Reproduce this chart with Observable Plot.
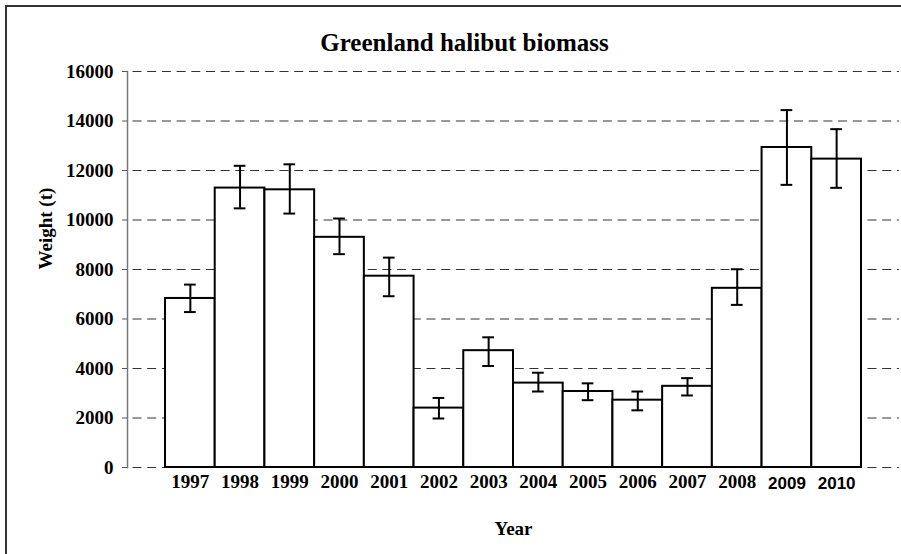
<!DOCTYPE html>
<html>
<head>
<meta charset="utf-8">
<script src="https://cdn.jsdelivr.net/npm/d3@7"></script>
<script src="https://cdn.jsdelivr.net/npm/@observablehq/plot@0.6"></script>
<style>
  html, body { margin: 0; padding: 0; background: #fff; overflow: hidden; }
  #wrap { position: relative; width: 901px; height: 554px; }
  #border { position: absolute; left: 5px; top: 5px; width: 2000px; height: 2000px;
            border: 2px solid #333; pointer-events: none; }
  svg { display: block; }
</style>
</head>
<body>
<div id="wrap"><div id="border"></div></div>
<script>
const years   = [1997, 1998, 1999, 2000, 2001, 2002, 2003, 2004, 2005, 2006, 2007, 2008, 2009, 2010];
const biomass = [6830, 11290, 11220, 9300, 7730, 2400, 4720, 3410, 3070, 2720, 3280, 7240, 12930, 12460];
const errHigh = [7390, 12190, 12250, 10060, 8480, 2810, 5260, 3830, 3400, 3070, 3610, 8010, 14440, 13670];
const errLow  = [6280, 10470, 10260, 8620, 6920, 1980, 4100, 3070, 2720, 2310, 2910, 6570, 11420, 11300];
const yTicks  = [0, 2000, 4000, 6000, 8000, 10000, 12000, 14000, 16000];
const title = "Greenland halibut biomass";
const xLabel = "Year";
const yLabel = "Weight (t)";

const data = years.map((y, i) => ({year: String(y), yr: y, value: biomass[i], lo: errLow[i], hi: errHigh[i]}));
const serif = "'Liberation Serif', 'Times New Roman', serif";
const sans = "'Liberation Sans', Arial, sans-serif";

const chart = Plot.plot({
  width: 901,
  height: 554,
  marginLeft: 127,
  marginRight: 2,
  marginTop: 71,
  marginBottom: 87,
  style: {background: "transparent", fontFamily: serif, color: "black"},
  x: {type: "band", domain: years.map(String), padding: 0, round: false, insetLeft: 38, insetRight: 38, axis: null},
  y: {domain: [0, 16000], axis: null},
  marks: [
    Plot.ruleY(yTicks, {stroke: "#333", strokeWidth: 1, strokeDasharray: "9,5.7", strokeDashoffset: -5.5}),
    Plot.frame({anchor: "left", stroke: "#777", strokeWidth: 1.5}),
    Plot.axisY(yTicks, {tickSize: 5, tickPadding: 9, tickFormat: "d", fontSize: 19, fontWeight: "bold",
                        fontFamily: serif, fill: "black", stroke: "#555", label: null}),
    Plot.barY(data, {x: "year", y: "value", fill: "white", stroke: "black", strokeWidth: 2}),
    Plot.ruleX(data, {x: "year", y1: "lo", y2: "hi", stroke: "black", strokeWidth: 2}),
    Plot.tickY(data, {x: "year", y: "lo", insetLeft: 19, insetRight: 19, stroke: "black", strokeWidth: 2}),
    Plot.tickY(data, {x: "year", y: "hi", insetLeft: 19, insetRight: 19, stroke: "black", strokeWidth: 2}),
    Plot.text(data.filter(d => d.yr < 2009), {x: "year", text: "year", frameAnchor: "bottom", lineAnchor: "middle",
      dy: 14, fontSize: 19, fontWeight: "bold", fontFamily: serif, fill: "black"}),
    Plot.text(data.filter(d => d.yr >= 2009), {x: "year", text: "year", frameAnchor: "bottom", lineAnchor: "middle",
      dy: 16, fontSize: 17, fontWeight: "bold", fontFamily: sans, fill: "black"}),
    Plot.text([title], {frameAnchor: "top", lineAnchor: "middle", dx: -49, dy: -29, fontSize: 25,
      fontWeight: "bold", fontFamily: serif, fill: "black"}),
    Plot.text([xLabel], {frameAnchor: "bottom", lineAnchor: "middle", dy: 61, fontSize: 19,
      fontWeight: "bold", fontFamily: serif, fill: "black"}),
    Plot.text([yLabel], {frameAnchor: "left", lineAnchor: "middle", dx: -82, rotate: -90, fontSize: 19,
      fontWeight: "bold", fontFamily: serif, fill: "black"})
  ]
});
document.getElementById("wrap").prepend(chart);
</script>
</body>
</html>
